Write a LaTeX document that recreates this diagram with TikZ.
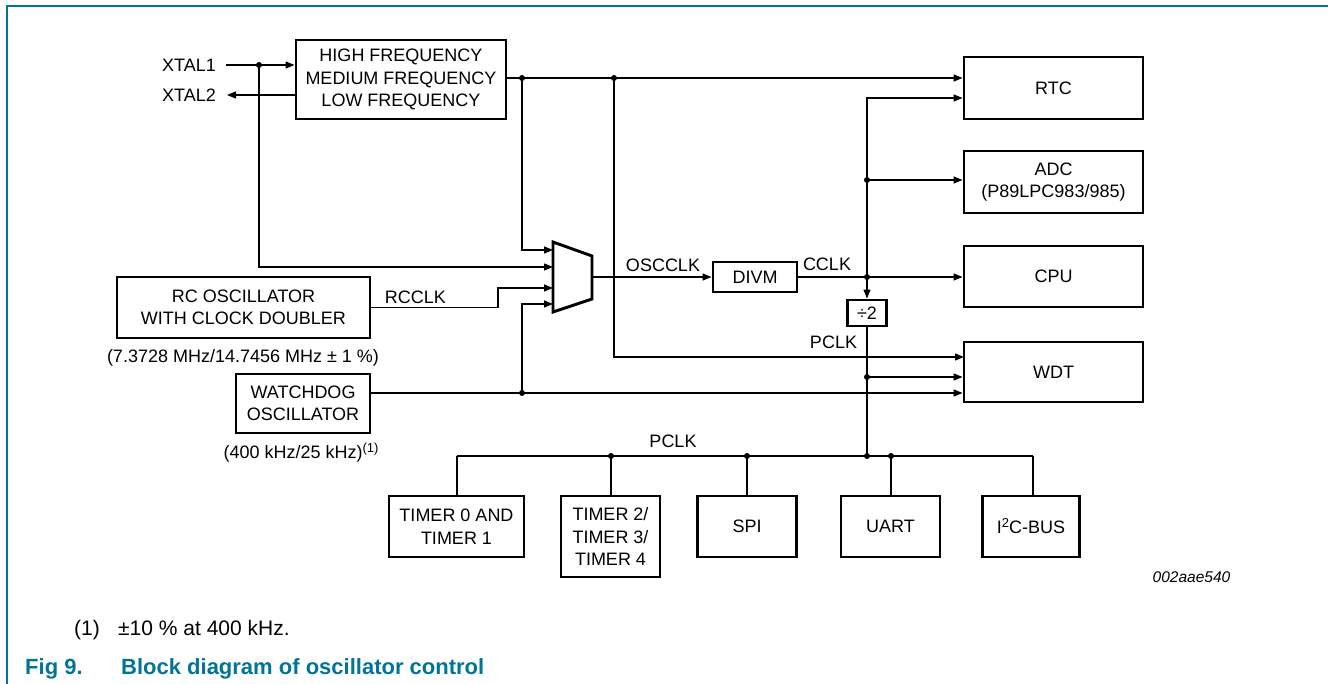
\documentclass[tikz,border=0pt]{standalone}
\usepackage{fontspec}
\setmainfont{Liberation Sans}
\usetikzlibrary{arrows.meta,calc}
\definecolor{nxp}{RGB}{0,117,150}
\newcommand{\dgf}{\fontsize{18}{22.5}\selectfont}
\newcommand{\supr}[1]{\raisebox{6pt}{\fontsize{13}{15}\selectfont #1}}
\begin{document}
\begin{tikzpicture}[x=1pt,y=-1pt,
  box/.style={draw, line width=2.9pt, inner sep=0pt, align=center, font=\dgf},
  lbl/.style={inner sep=0pt, font=\dgf},
  wire/.style={line width=1.3pt},
  arr/.style={line width=1.3pt, -{Triangle[length=9pt,width=7pt]}},
  dotc/.style={fill=black}]
\useasboundingbox (0,0) rectangle (1328,684);
% frame
\draw[nxp, line width=2pt] (7,684) -- (7,6) -- (1328,6);

% blocks
\node[box, minimum width=210pt, minimum height=79pt] (hf) at (401,79.5) {HIGH FREQUENCY\\MEDIUM FREQUENCY\\LOW FREQUENCY};
\node[lbl, anchor=east] (x1) at (216,65) {XTAL1};
\node[lbl, anchor=east] (x2) at (216,95) {XTAL2};
\node[box, minimum width=179pt, minimum height=62pt] (rtc) at (1053.5,88) {RTC};
\node[box, minimum width=179pt, minimum height=62pt] (adc) at (1053.5,182) {ADC\\(P89LPC983/985)};
\node[box, minimum width=179pt, minimum height=61pt] (cpu) at (1053.5,276.5) {CPU};
\node[box, minimum width=179pt, minimum height=60pt] (wdt) at (1053.5,372) {WDT};
\node[box, minimum width=84pt, minimum height=30pt] (divm) at (755,277) {DIVM};
\node[box, minimum width=39pt, minimum height=26pt] (div2) at (867,313) {÷2};
\node[box, minimum width=253pt, minimum height=61pt] (rc) at (243.5,307.5) {RC OSCILLATOR\\WITH CLOCK DOUBLER};
\node[box, minimum width=134pt, minimum height=59pt] (wd) at (303,403.5) {WATCHDOG\\OSCILLATOR};
\node[box, minimum width=135pt, minimum height=61pt] (t01) at (456.5,526.5) {TIMER 0 AND\\TIMER 1};
\node[box, minimum width=99pt, minimum height=81pt] (t234) at (610.5,536.5) {TIMER 2/\\TIMER 3/\\TIMER 4};
\node[box, minimum width=99pt, minimum height=61pt] (spi) at (747,526.5) {SPI};
\node[box, minimum width=99pt, minimum height=61pt] (uart) at (890.5,526.5) {UART};
\node[box, minimum width=97pt, minimum height=61pt] (i2c) at (1031,526.5) {I\supr{2}C-BUS};

% labels
\node[lbl] (rcclk) at (415.5,297) {RCCLK};
\node[lbl] (oscclk) at (663,265) {OSCCLK};
\node[lbl] (cclk) at (827,264) {CCLK};
\node[lbl] (pclk1) at (833.5,342) {PCLK};
\node[lbl] (pclk2) at (673,441) {PCLK};
\node[lbl] (rcf) at (243,358) {(7.3728 MHz/14.7456 MHz ± 1 \%)};
\node[lbl, anchor=base] (wdf) at (301,458) {(400 kHz/25 kHz)\supr{(1)}};
\node[inner sep=0pt, font=\fontsize{15.5}{18}\selectfont\itshape] (figid) at (1191.5,577) {002aae540};
\node[inner sep=0pt, anchor=base west, font=\fontsize{21}{24}\selectfont] (fnn) at (74,635) {(1)};
\node[inner sep=0pt, anchor=base west, font=\fontsize{21}{24}\selectfont] (fnt) at (118,635) {±10 \% at 400 kHz.};
\node[inner sep=0pt, anchor=base west, text=nxp, font=\fontsize{22}{26}\selectfont\bfseries] (fign) at (25,674) {Fig 9.};
\node[inner sep=0pt, anchor=base west, text=nxp, font=\fontsize{22}{26}\selectfont\bfseries] (figt) at (121,674) {Block diagram of oscillator control};

% multiplexer
\draw[line width=2.9pt, line join=miter] (553,242) -- (592,256) -- (592,299) -- (553,312) -- cycle;
\coordinate (m1) at (553,250);
\coordinate (m2) at (553,267);
\coordinate (m3) at (553,288);
\coordinate (m4) at (553,304);
\coordinate (mo) at (592,277);

% junctions
\coordinate (j1) at (259,65);
\coordinate (j2) at (522,78);
\coordinate (j3) at (614,78);
\coordinate (j4) at (522,393);
\coordinate (j5) at (867,277);
\coordinate (j6) at (867,180);
\coordinate (j7) at (867,377);
\coordinate (jr) at (867,98);
\coordinate (wp) at (964,357);
\coordinate (rcs) at (498,0);
\coordinate (jb) at (867,456);
\coordinate (b0) at (457,456);
\coordinate (b1) at (611,456);
\coordinate (b2) at (747,456);
\coordinate (b4) at (891,456);
\coordinate (b5) at (1033,456);

% connectors
\draw[arr] ([xshift=10pt]x1.east) -- (x1 -| hf.west);
\draw[arr] (x2 -| hf.west) -- ([xshift=11pt]x2.east);
\draw[arr] (hf.east |- j2) -- (rtc.west |- j2);
\draw[arr] (j2) |- (m1);
\draw[arr] (j1) |- (m2);
\draw[arr] (j3) |- (wp);
\draw[arr] (rc.east) -- (rc.east -| rcs) |- (m3);
\draw[arr] (wd.east |- j4) -- (wdt.west |- j4);
\draw[arr] (j4) |- (m4);
\draw[arr] (mo) -- (divm.west);
\draw[arr] (divm.east) -- (cpu.west |- divm.east);
\draw[arr] (j5) |- (rtc.west |- jr);
\draw[arr] (j6) -- (adc.west |- j6);
\draw[arr] (j5) -- (div2.north);
\draw[wire] (div2.south) -- (jb);
\draw[arr] (j7) -- (wdt.west |- j7);
\draw[wire] (b0) -- (b5);
\draw[wire] (b0) -- (b0 |- t01.north);
\draw[wire] (b1) -- (b1 |- t234.north);
\draw[wire] (b2) -- (b2 |- spi.north);
\draw[wire] (b4) -- (b4 |- uart.north);
\draw[wire] (b5) -- (b5 |- i2c.north);

% dots
\foreach \p in {j1,j2,j3,j4,j5,j6,j7,jb,b1,b2,b4}
  \fill (\p) circle (3pt);
\end{tikzpicture}
\end{document}
